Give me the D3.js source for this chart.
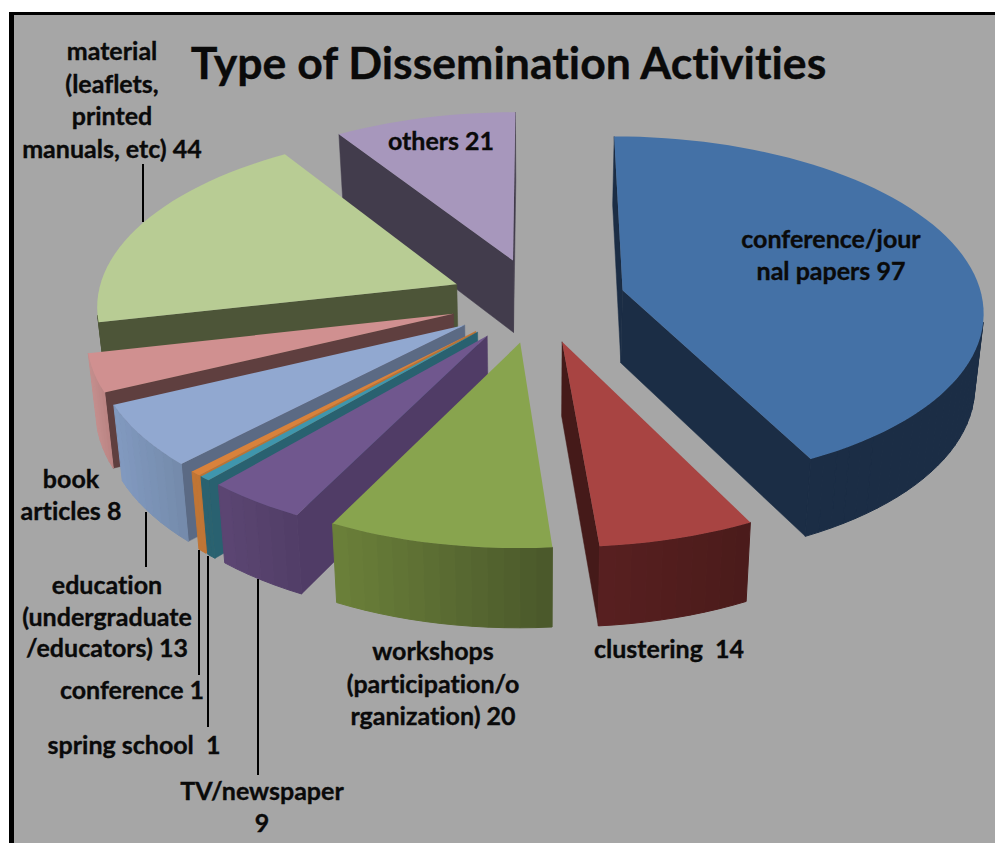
<!DOCTYPE html>
<html>
<head>
<meta charset="utf-8">
<style>
  html, body { margin: 0; padding: 0; background: #fff; }
  svg { display: block; }
  text {
    font-family: Lato, "Open Sans", sans-serif; font-weight: 700; fill: #0a0a0a; stroke: #0a0a0a; stroke-width: 0.35;
    text-anchor: middle; white-space: pre; font-variant-ligatures: none;
  }
</style>
<script src="https://cdn.jsdelivr.net/npm/d3@7"></script>
</head>
<body>
<div id="chart"></div>
<script>
// Data, clockwise from twelve o'clock
const categories = ["conference/journal papers", "clustering", "workshops", "TV/newspaper", "spring school",
                    "conference", "education", "book articles", "material", "others"];
const values = [97, 14, 20, 9, 1, 1, 13, 8, 44, 21];
const labelLines = [
    ["conference/jour", "nal papers 97"],
    ["clustering  14"],
    ["workshops", "(participation/o", "rganization) 20"],
    ["TV/newspaper", "9"],
    ["spring school  1"],
    ["conference 1"],
    ["education", "(undergraduate", "/educators) 13"],
    ["book", "articles 8"],
    ["material", "(leaflets,", "printed", "manuals, etc) 44"],
    ["others 21"]
];

// Colours per slice
const topColors  = ["#4471a6", "#a84442", "#88a44e", "#70578e", "#3f96ad", "#d9823b", "#91a8d0", "#d09090", "#b8cc94", "#a797bc"];
const wallColors = ["#1b2d45", "#451a19", "#4b5a2b", "#503c66", "#296170", "#bd7333", "#5b6a84", "#5f3f3f", "#4d5538", "#423c4c"];
const rimFrom    = ["#1b2d45", "#4a1b1a", "#48562a", "#503d66", "#2a6270", "#c07535", "#7389a9", "#b98281", "#4d5538", "#423c4c"];
const rimTo      = ["#1b2d45", "#571f20", "#6a7f39", "#5b4572", "#2a6270", "#c07535", "#8199bf", "#c48e8d", "#4d5538", "#423c4c"];

// Layout
const W = 995, H = 843;
const title = "Type of Dissemination Activities";
const labelX = [831, 669, 433, 262, 134, 132, 107, 71, 112, 441];
const labelY = [248, 658, 660, 800, 754, 699, 594, 488, 60, 150];
const lineGap = [32, 0, 32.5, 32, 0, 0, 31.5, 32, 32.5, 0];
const leaders = [[143, 164, 222], [146, 512, 567], [199, 550, 675], [208, 556, 727], [258, 579, 775]];
const drawOrder = [9, 8, 7, 6, 5, 4, 3, 2, 1, 0];

// Projection of the tilted pie
const cx = 537.5, cy = 300, radius = 360, explode = 88;
const tilt = 0.48, persp = 0.11, depth = 73, baseShrink = 0.98;

function project(d, theta, r, lower) {
    const mid = (d.startAngle + d.endAngle) / 2;
    const wx = explode * Math.sin(mid) + r * Math.sin(theta);
    const wy = -explode * Math.cos(mid) - r * Math.cos(theta);
    const g = 1 / (1 - persp * wy / radius);
    return [
        cx + wx * g * (lower ? baseShrink : 1),
        cy + tilt * wy * g + (lower ? depth * Math.pow(g, 0.6) : 0)
    ];
}

const svg = d3.select("#chart").append("svg")
    .attr("width", W)
    .attr("height", H);

svg.append("rect").attr("x", 9).attr("y", 12).attr("width", W).attr("height", H).attr("fill", "#000");
svg.append("rect").attr("x", 14).attr("y", 15).attr("width", W).attr("height", H).attr("fill", "#a6a6a6");

const arcs = d3.pie().sort(null).startAngle(0).endAngle(2 * Math.PI)(values);
const line = d3.line();

// d3.polygonArea is positive for a polygon that runs counter-clockwise on screen
const facing = pts => d3.polygonArea(pts) > 0;

drawOrder.forEach(i => {
    const d = arcs[i];
    const g = svg.append("g").attr("class", "slice").attr("data-name", categories[i]);
    const steps = Math.max(2, Math.round((d.endAngle - d.startAngle) / 0.04));
    const angles = d3.range(steps + 1).map(s => d.startAngle + (d.endAngle - d.startAngle) * s / steps);
    const mid = (d.startAngle + d.endAngle) / 2;

    // radial walls
    [[d.startAngle, false], [d.endAngle, true]].forEach(([a, flip]) => {
        const q = [project(d, mid, 0, false), project(d, a, radius, false), project(d, a, radius, true), project(d, mid, 0, true)];
        if (!facing(flip ? q.slice().reverse() : q)) return;
        g.append("path").attr("d", line(q) + "Z")
            .attr("fill", wallColors[i]).attr("stroke", wallColors[i]).attr("stroke-width", 0.5);
    });

    // rim, in strips so it shades across the slice
    const shade = d3.scaleLinear()
        .domain(d3.extent(angles, a => project(d, a, radius, false)[0]))
        .range([rimTo[i], rimFrom[i]])
        .interpolate(d3.interpolateRgb);
    angles.slice(1).forEach((a, s) => {
        const b = angles[s];
        const q = [project(d, b, radius, false), project(d, a, radius, false), project(d, a, radius, true), project(d, b, radius, true)];
        if (!facing(q)) return;
        const c = shade(project(d, a, radius, false)[0]);
        g.append("path").attr("d", line(q) + "Z")
            .attr("fill", c).attr("stroke", c).attr("stroke-width", 1);
    });

    // top face
    const face = [project(d, mid, 0, false)].concat(angles.map(a => project(d, a, radius, false)));
    g.append("path").attr("d", line(face) + "Z").attr("fill", topColors[i]);
});

// Leader lines
svg.selectAll(".leader")
    .data(leaders)
    .enter().append("line")
        .attr("class", "leader")
        .attr("x1", d => d[0]).attr("x2", d => d[0])
        .attr("y1", d => d[1]).attr("y2", d => d[2])
        .attr("stroke", "#000")
        .attr("stroke-width", 2);

// Labels
labelLines.forEach((lines, i) => {
    lines.forEach((t, j) => {
        svg.append("text")
            .attr("x", labelX[i])
            .attr("y", labelY[i] + j * lineGap[i])
            .style("font-size", "25px")
            .text(t);
    });
});

svg.append("text")
    .attr("x", 508.5)
    .attr("y", 79)
    .style("font-size", "44.6px")
    .text(title);
</script>
</body>
</html>
